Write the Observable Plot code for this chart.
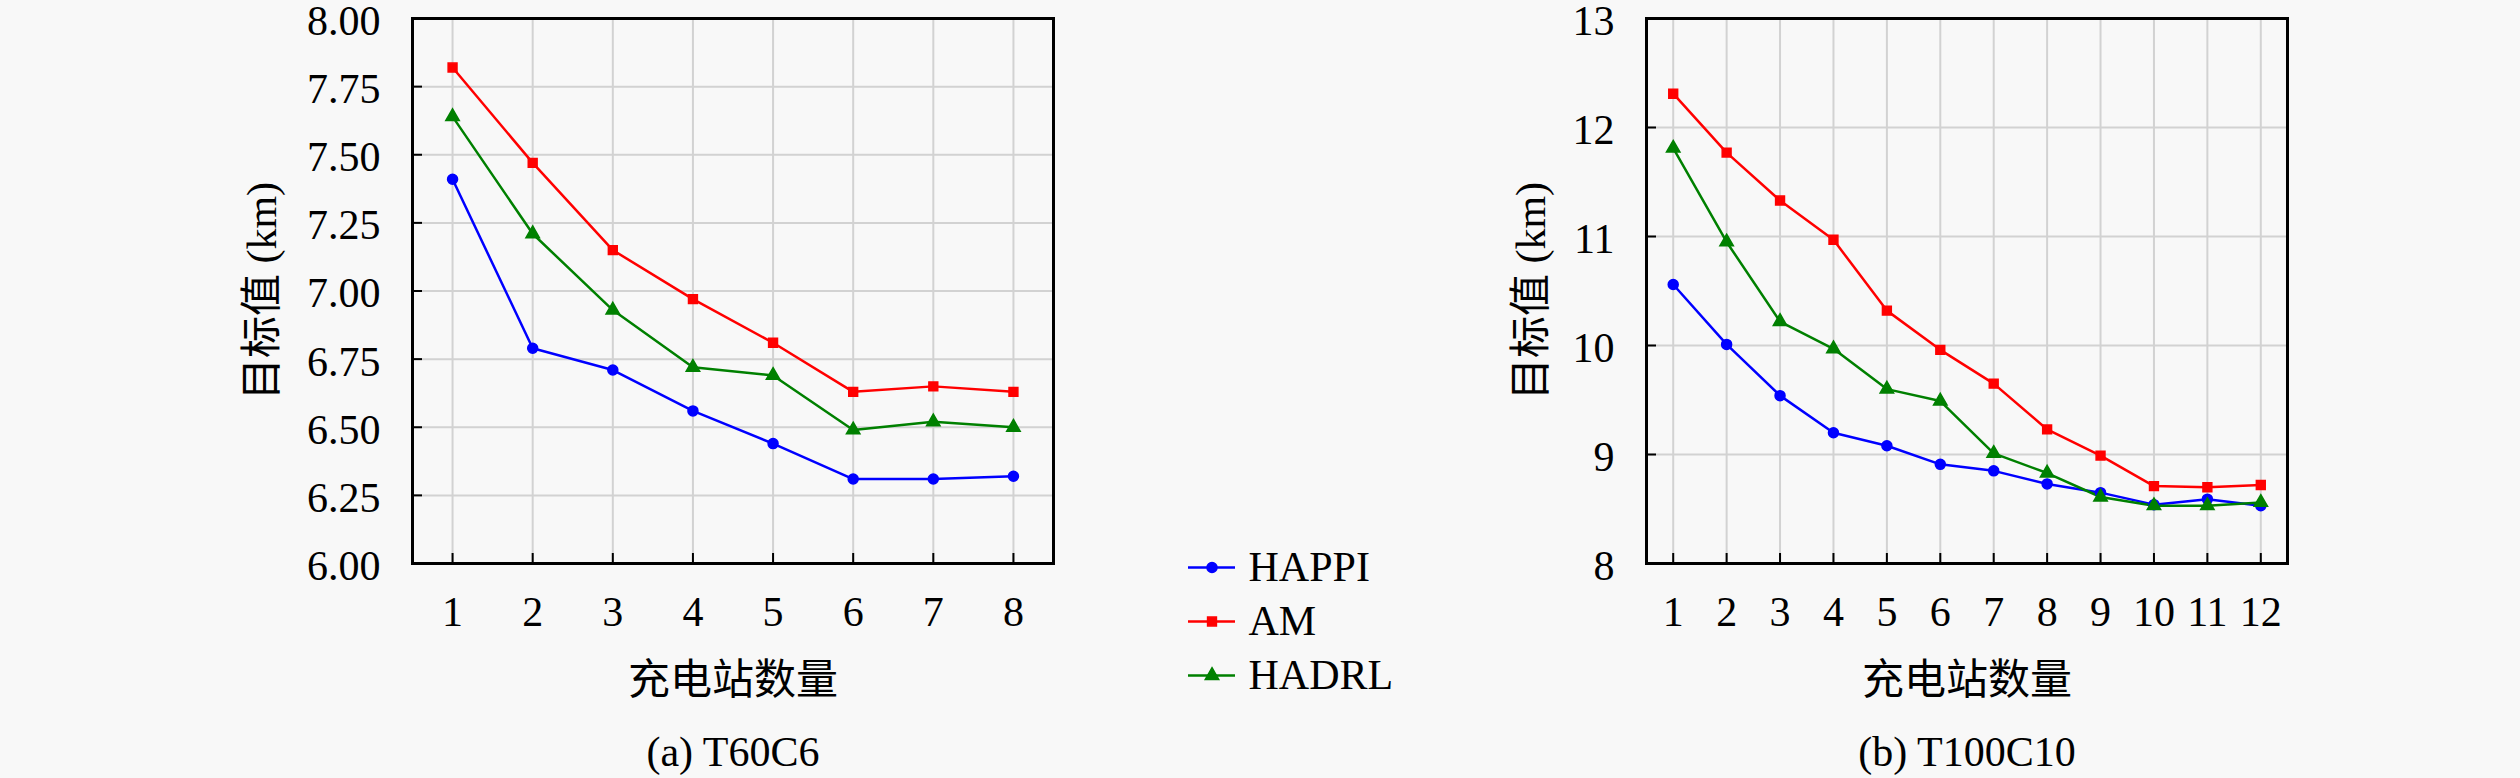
<!DOCTYPE html>
<html>
<head>
<meta charset="utf-8">
<script src="https://cdn.jsdelivr.net/npm/d3@7"></script>
<script src="https://cdn.jsdelivr.net/npm/@observablehq/plot@0.6"></script>
<style>
  html, body { margin: 0; padding: 0; background: #f8f8f8; }
  #wrap { position: relative; width: 2520px; height: 778px; overflow: hidden; background: #f8f8f8;
          font-family: "Liberation Serif", "Noto Sans CJK SC", serif; }
  .panel { position: absolute; top: 0; }
  .caption { position: absolute; font-size: 42px; color: #000; transform: translateX(-50%); white-space: nowrap;
             font-family: "Liberation Serif", "Noto Sans CJK SC", serif; }
  #legend { position: absolute; left: 1180px; top: 513px; }
</style>
</head>
<body>
<div id="wrap">
  <div id="pa" class="panel" style="left:0px"></div>
  <div id="pb" class="panel" style="left:1260px"></div>
  <div id="legend"></div>
  <div class="caption" style="left:733px; top:728px">(a) T60C6</div>
  <div class="caption" style="left:1967px; top:728px">(b) T100C10</div>
</div>
<script>
const series = ["HAPPI", "AM", "HADRL"];
const colors = ["#0000ff", "#ff0000", "#008000"];
const symbols = ["circle", "square", "triangle"];

// Panel (a) T60C6
const xA = [1, 2, 3, 4, 5, 6, 7, 8];
const happiA = [7.41, 6.79, 6.71, 6.56, 6.44, 6.31, 6.31, 6.32];
const amA    = [7.82, 7.47, 7.15, 6.97, 6.81, 6.63, 6.65, 6.63];
const hadrlA = [7.64, 7.21, 6.93, 6.72, 6.69, 6.49, 6.52, 6.50];
const yTicksA = [6.00, 6.25, 6.50, 6.75, 7.00, 7.25, 7.50, 7.75, 8.00];

// Panel (b) T100C10
const xB = [1, 2, 3, 4, 5, 6, 7, 8, 9, 10, 11, 12];
const happiB = [10.56, 10.01, 9.54, 9.20, 9.08, 8.91, 8.85, 8.73, 8.65, 8.54, 8.59, 8.53];
const amB    = [12.31, 11.77, 11.33, 10.97, 10.32, 9.96, 9.65, 9.23, 8.99, 8.71, 8.70, 8.72];
const hadrlB = [11.81, 10.95, 10.22, 9.97, 9.60, 9.49, 9.01, 8.83, 8.61, 8.53, 8.53, 8.56];
const yTicksB = [8, 9, 10, 11, 12, 13];

const xLabel = "充电站数量";
const yLabel = "目标值 (km)";

function tidy(xs, lists) {
  const rows = [];
  lists.forEach((vals, s) => vals.forEach((v, i) => rows.push({x: xs[i], y: vals[i], s: series[s]})));
  return rows;
}

const FONT = `"Liberation Serif", "Noto Sans CJK SC", serif`;
const gridStyle = {stroke: "#d2d2d2", strokeOpacity: 1, strokeWidth: 2};

function panel({xs, lists, yTicks, yDomain, fmt, ml, mr, yLabelOffset}) {
  const data = tidy(xs, lists);
  return Plot.plot({
    width: 1260, height: 778,
    marginLeft: ml, marginRight: mr, marginTop: 18, marginBottom: 215,
    style: {background: "transparent", fontFamily: FONT, fontSize: "42px", color: "#000", overflow: "visible"},
    x: {domain: [0.5, xs.length + 0.5]},
    y: {domain: yDomain},
    color: {domain: series, range: colors},
    symbol: {domain: series, range: symbols},
    marks: [
      Plot.gridX(xs, {...gridStyle}),
      Plot.gridY(yTicks, {...gridStyle}),
      Plot.axisX(xs, {tickSize: 10, dy: -10, stroke: "#000", strokeWidth: 2, text: null, label: null}),
      Plot.axisX(xs, {tickSize: 0, tickPadding: 33, fontSize: 42, label: xLabel, labelAnchor: "center",
                      labelArrow: "none", labelOffset: 130, tickFormat: d => String(d)}),
      Plot.axisY(yTicks, {tickSize: 10, dx: 10, stroke: "#000", strokeWidth: 2, text: null, label: null}),
      Plot.axisY(yTicks, {tickSize: 0, tickPadding: 32, dy: 3, fontSize: 42, tickFormat: fmt, label: null}),
      Plot.axisY({tickSize: 0, ticks: [], label: yLabel,
                  labelAnchor: "center", labelArrow: "none", labelOffset: yLabelOffset, fontSize: 42}),
      Plot.frame({stroke: "#000", strokeWidth: 3}),
      Plot.line(data, {x: "x", y: "y", z: "s", stroke: "s", strokeWidth: 2.5}),
      Plot.dot(data, {x: "x", y: "y", symbol: "s", fill: "s", stroke: "s", r: 5})
    ]
  });
}

document.getElementById("pa").append(panel({
  xs: xA, lists: [happiA, amA, hadrlA], yTicks: yTicksA, yDomain: [6, 8],
  fmt: d3.format(".2f"), ml: 412, mr: 207, yLabelOffset: 166
}));
document.getElementById("pb").append(panel({
  xs: xB, lists: [happiB, amB, hadrlB], yTicks: yTicksB, yDomain: [8, 13],
  fmt: d3.format("d"), ml: 386, mr: 233, yLabelOffset: 131
}));

// Legend
document.getElementById("legend").append(Plot.plot({
  width: 330, height: 200, margin: 0,
  style: {background: "transparent", fontFamily: FONT, fontSize: "42px", color: "#000"},
  x: {domain: [0, 1], range: [8, 55], axis: null},
  y: {type: "point", domain: series, range: [54, 162], padding: 0, axis: null},
  color: {domain: series, range: colors},
  symbol: {domain: series, range: symbols},
  marks: [
    Plot.ruleY(series, {y: d => d, x1: 0, x2: 1, stroke: d => d, strokeWidth: 2.5}),
    Plot.dot(series, {x: 0.5, y: d => d, symbol: d => d, fill: d => d, stroke: d => d, r: 5}),
    Plot.text(series, {x: 1, y: d => d, text: d => d, textAnchor: "start", dx: 13, fontSize: 42, fill: "#000"})
  ]
}));
</script>
</body>
</html>
